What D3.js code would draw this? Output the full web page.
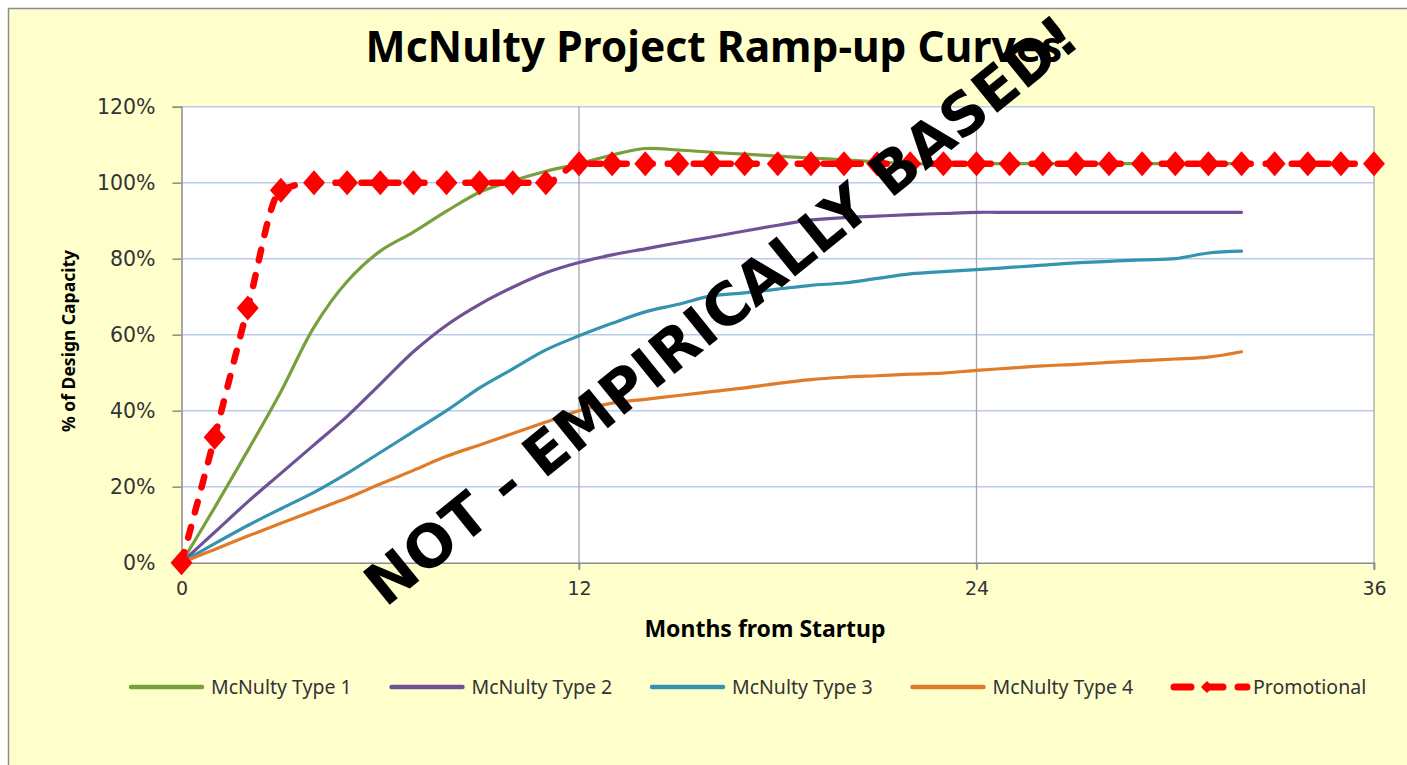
<!DOCTYPE html>
<html>
<head>
<meta charset="utf-8">
<script src="https://cdn.jsdelivr.net/npm/d3@7"></script>
<style>
  html, body { margin: 0; padding: 0; background: #fff; }
  svg { display: block; }
</style>
</head>
<body>
<svg id="chart-svg"></svg>
<script>
// values (percent of design capacity)
const months = [0,1,2,3,4,5,6,7,8,9,10,11,12,13,14,15,16,17,18,19,20,21,22,23,24,25,26,27,28,29,30,31,32]
const promoMonths = [0,1,2,3,4,5,6,7,8,9,10,11,12,13,14,15,16,17,18,19,20,21,22,23,24,25,26,27,28,29,30,31,32,33,34,35,36]

const type1 = [0,14.5,29.5,45,62,74,82,87,92.5,97.5,100.5,103,105,107.3,109,108.6,108,107.5,107,106.5,106,105.5,105,105,105,105,105,105,105,105,105,105,105]
const type2 = [0,8,16,23.5,31,38.5,47,55.5,62.5,68,72.5,76.3,79,81,82.6,84.2,85.7,87.3,88.8,90.2,90.8,91.2,91.6,91.9,92.2,92.2,92.2,92.2,92.2,92.2,92.2,92.2,92.2]
const type3 = [0,5,9.8,14.2,18.5,23.5,29,34.5,40,46,51,56,59.7,63,66,68,70.2,71,72,73,73.6,74.8,76,76.6,77.1,77.7,78.3,78.9,79.3,79.7,80,81.5,82]
const type4 = [0,3.5,7,10.4,13.7,17,20.7,24.3,28,31,34,37,40,42,43,44,45,46,47.2,48.2,48.8,49.2,49.6,49.9,50.6,51.2,51.8,52.2,52.7,53.2,53.6,54.1,55.5]
const promotional = [0,33,67,98,100,100,100,100,100,100,100,100,105,105,105,105,105,105,105,105,105,105,105,105,105,105,105,105,105,105,105,105,105,105,105,105,105]

const seriesNames = ['McNulty Type 1', 'McNulty Type 2', 'McNulty Type 3', 'McNulty Type 4', 'Promotional']
const seriesColors = ['#77a03c', '#6f5196', '#3493ae', '#e07b2a', '#ff0000']
const xTicks = [0, 12, 24, 36]
const yTicks = [0, 20, 40, 60, 80, 100, 120]

const W = 1407, H = 765
const plot = { left: 181.5, right: 1374, top: 106.7, bottom: 562.7 }

const svg = d3.select('#chart-svg').attr('width', W).attr('height', H)

// chart area
svg.append('rect').attr('x', 8.5).attr('y', 8.5).attr('width', W + 20).attr('height', H + 20)
    .attr('fill', '#ffffcc').attr('stroke', '#8c8c8c').attr('stroke-width', 1.5)

const x = d3.scaleLinear().domain([0, 36]).range([plot.left, plot.right])
const y = d3.scaleLinear().domain([0, 120]).range([plot.bottom, plot.top])

svg.append('rect')
    .attr('x', plot.left).attr('y', plot.top)
    .attr('width', plot.right - plot.left).attr('height', plot.bottom - plot.top)
    .attr('fill', '#fff')

// gridlines
svg.append('g').selectAll('line').data(yTicks.filter(d => d > 0)).join('line')
    .attr('x1', plot.left).attr('x2', plot.right)
    .attr('y1', d => y(d)).attr('y2', d => y(d))
    .attr('stroke', '#b9cbe8').attr('stroke-width', 1.5)

svg.append('g').selectAll('line').data(xTicks.filter(d => d > 0)).join('line')
    .attr('x1', d => x(d)).attr('x2', d => x(d))
    .attr('y1', plot.top).attr('y2', plot.bottom + 7)
    .attr('stroke', '#a6a6a6').attr('stroke-width', 1.3)

// axes
const yAxis = svg.append('g')
    .attr('transform', 'translate(' + plot.left + ',0)')
    .call(d3.axisLeft(y).tickValues(yTicks).tickFormat(d => d + '%').tickSize(9).tickPadding(17))
yAxis.select('.domain').attr('stroke', '#8c8c8c').attr('stroke-width', 1.5)
yAxis.selectAll('.tick line').attr('stroke', '#8c8c8c').attr('stroke-width', 1.5)
yAxis.selectAll('.tick text')
    .attr('fill', '#333').style('font-family', '"DejaVu Sans", sans-serif').style('font-size', '20.5px')

const xAxis = svg.append('g')
    .attr('transform', 'translate(0,' + plot.bottom + ')')
    .call(d3.axisBottom(x).tickValues(xTicks).tickSize(7).tickPadding(12))
xAxis.select('.domain').attr('stroke', '#8c8c8c').attr('stroke-width', 1.5)
xAxis.selectAll('.tick line').attr('stroke', '#8c8c8c').attr('stroke-width', 1.5)
xAxis.selectAll('.tick text')
    .attr('fill', '#333').style('font-family', '"DejaVu Sans", sans-serif').style('font-size', '19px')

// series
const smoothLine = d3.line()
    .x(d => x(d[0]))
    .y(d => y(d[1]))
    .curve(d3.curveCatmullRom.alpha(0.5))

const promoLine = d3.line()
    .x(d => x(d[0]))
    .y(d => y(d[1]))
    .curve(d3.curveMonotoneX)

const smoothSeries = [type1, type2, type3, type4]
smoothSeries.forEach((vals, i) => {
    svg.append('path')
        .datum(months.map((m, j) => [m, vals[j]]))
        .attr('fill', 'none')
        .attr('stroke', seriesColors[i])
        .attr('stroke-width', 3.2)
        .attr('stroke-linejoin', 'round')
        .attr('stroke-linecap', 'round')
        .attr('d', smoothLine)
})

const promoData = promoMonths.map((m, j) => [m, promotional[j]])
svg.append('path')
    .datum(promoData)
    .attr('fill', 'none')
    .attr('stroke', seriesColors[4])
    .attr('stroke-width', 6.5)
    .attr('stroke-dasharray', '11,15')
    .attr('stroke-linecap', 'round')
    .attr('d', promoLine)

const diamond = (cx, cy, hw, hh) => 'M' + cx + ',' + (cy - hh) + 'L' + (cx + hw) + ',' + cy +
    'L' + cx + ',' + (cy + hh) + 'L' + (cx - hw) + ',' + cy + 'Z'

svg.append('g').selectAll('path').data(promoData).join('path')
    .attr('d', d => diamond(x(d[0]), y(d[1]), 11, 12.5))
    .attr('fill', seriesColors[4])

// titles
svg.append('text')
    .attr('x', 714).attr('y', 62)
    .attr('text-anchor', 'middle')
    .style('font-family', '"Noto Sans", sans-serif').style('font-weight', 'bold').style('font-size', '42.5px')
    .attr('fill', '#000')
    .text('McNulty Project Ramp-up Curves')

svg.append('text')
    .attr('x', 765).attr('y', 637)
    .attr('text-anchor', 'middle')
    .style('font-family', '"Noto Sans", sans-serif').style('font-weight', 'bold').style('font-size', '23px')
    .attr('fill', '#000')
    .text('Months from Startup')

svg.append('text')
    .attr('transform', 'translate(75,341) rotate(-90)')
    .attr('text-anchor', 'middle')
    .style('font-family', '"Noto Sans", sans-serif').style('font-weight', 'bold').style('font-size', '17.5px')
    .attr('fill', '#000')
    .text('% of Design Capacity')

// legend
const legendY = 687
const legend = svg.append('g')
seriesNames.forEach((name, i) => {
    const lx = 129 + i * 260.5
    const g = legend.append('g').attr('transform', 'translate(' + lx + ',' + legendY + ')')
    if (i < 4) {
        g.append('line').attr('x1', 2).attr('x2', 73).attr('y1', 0).attr('y2', 0)
            .attr('stroke', seriesColors[i]).attr('stroke-width', 4.5).attr('stroke-linecap', 'round')
    } else {
        g.append('line').attr('x1', 3).attr('x2', 76).attr('y1', 0).attr('y2', 0)
            .attr('stroke', seriesColors[i]).attr('stroke-width', 7)
            .attr('stroke-dasharray', '17,15').attr('stroke-linecap', 'round')
        g.append('path').attr('d', diamond(36, 0, 6, 6)).attr('fill', seriesColors[i])
    }
    g.append('text')
        .attr('x', 82).attr('y', 7)
        .style('font-family', '"Noto Sans", sans-serif').style('font-size', '19.5px')
        .attr('fill', '#333')
        .text(name)
})

// watermark
svg.append('text')
    .attr('transform', 'translate(734,326) rotate(-39)')
    .attr('text-anchor', 'middle')
    .style('font-family', '"DejaVu Sans", sans-serif').style('font-weight', 'bold').style('font-size', '58.5px')
    .attr('fill', '#000')
    .text('NOT - EMPIRICALLY BASED!')
</script>
</body>
</html>
